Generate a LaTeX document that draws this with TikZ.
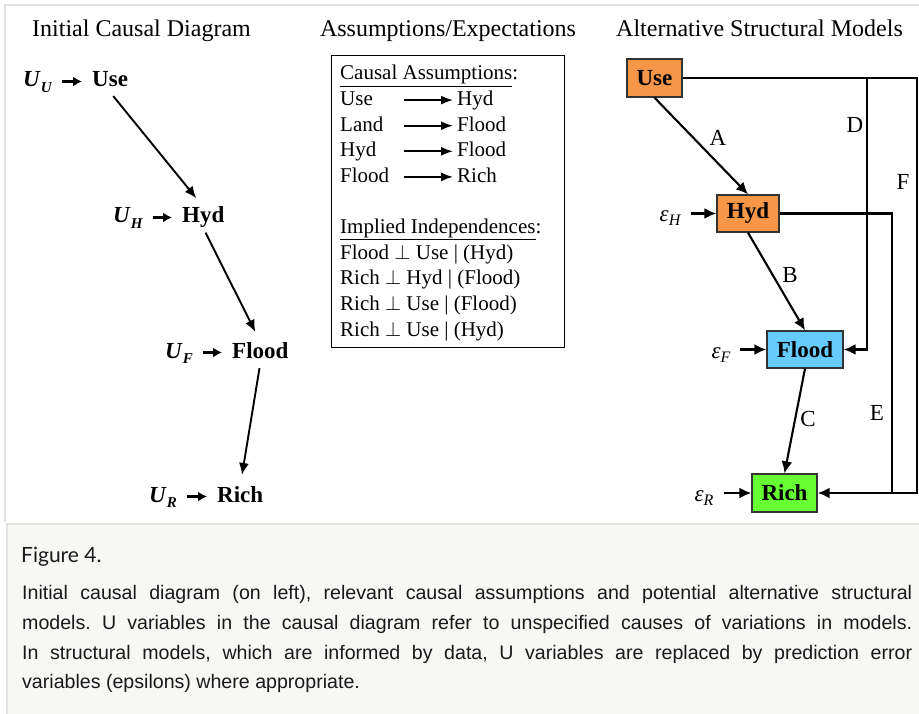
\documentclass[tikz,border=0pt]{standalone}
\usepackage{fontspec}
\setmainfont{Liberation Serif}
\newfontfamily\capsans{Liberation Sans}
\newfontfamily\figlato{Lato}
\usetikzlibrary{arrows.meta}
\frenchspacing
\definecolor{orangebox}{RGB}{247,150,70}
\definecolor{bluebox}{RGB}{102,204,255}
\definecolor{greenbox}{RGB}{102,255,51}
\definecolor{framegray}{RGB}{226,226,222}
\definecolor{capbg}{RGB}{247,247,245}
\definecolor{captext}{RGB}{25,25,25}
\newcommand{\uvar}[1]{\textbf{\textit{U}}\raisebox{-0.22em}{\fontsize{15}{16}\selectfont\bfseries\itshape #1}}
\newcommand{\epsv}[1]{\textit{ε}\raisebox{-0.2em}{\fontsize{16}{17}\selectfont\itshape #1}}
\begin{document}
\begin{tikzpicture}[x=1pt,y=-1pt,
  title/.style={font=\fontsize{24}{28}\selectfont, inner sep=0pt, anchor=base},
  lvar/.style={font=\fontsize{23}{26}\selectfont\bfseries, inner sep=0pt, anchor=base west, text height=16pt, text depth=5pt},
  luvar/.style={font=\fontsize{23}{26}\selectfont, inner sep=0pt, anchor=base west, text height=16pt, text depth=5pt},
  uarr/.style={-{Latex[length=9pt,width=10pt]}, line width=2.2pt, shorten <=10pt, shorten >=10pt},
  larr/.style={-{Latex[length=12pt,width=10pt]}, line width=1.9pt, shorten <=5pt, shorten >=11pt},
  btext/.style={font=\fontsize{21}{24}\selectfont, inner sep=0pt, anchor=base west, text height=15pt, text depth=4pt},
  barr/.style={-{Latex[length=12pt,width=9pt]}, line width=1.7pt, shorten >=4pt},
  sbox/.style={draw=black!80, line width=1.3pt, font=\fontsize{23}{26}\selectfont\bfseries, inner sep=0pt},
  carr/.style={-{Latex[length=12pt,width=11pt]}, line width=2.1pt},
  cline/.style={line width=2.1pt},
  elab/.style={font=\fontsize{23}{26}\selectfont, inner sep=0pt},
  capline/.style={font=\capsans\fontsize{19.6}{23}\selectfont, text=captext, inner sep=0pt, anchor=base west}
]
\useasboundingbox (0,0) rectangle (919,714);
\fill[white] (0,0) rectangle (919,714);
\draw[framegray, line width=1.5pt] (5,522) -- (5,5) -- (919,5);
\fill[capbg] (6,524) rectangle (919,714);
\draw[framegray, line width=2pt] (6.5,714) -- (6.5,524) -- (919,524);

% titles
\node[title] (t1) at (141.5,37) {Initial Causal Diagram};
\node[title] (t2) at (448,37) {Assumptions/Expectations};
\node[title] (t3) at (759.5,37) {Alternative Structural Models};

% left diagram
\node[luvar] (uu) at (23,87) {\uvar{U}};
\node[lvar] (use) at (92,87) {Use};
\node[luvar] (uh) at (113,223) {\uvar{H}};
\node[lvar] (hyd) at (182,223) {Hyd};
\node[luvar] (uf) at (165,358) {\uvar{F}};
\node[lvar] (flood) at (232,358) {Flood};
\node[luvar] (ur) at (149,502) {\uvar{R}};
\node[lvar] (rich) at (217,502) {Rich};
\draw[uarr] (uu.east) -- (use.west);
\draw[uarr] (uh.east) -- (hyd.west);
\draw[uarr] (uf.east) -- (flood.west);
\draw[uarr] (ur.east) -- (rich.west);
\draw[larr] (use.south) -- (hyd.north);
\draw[larr] (hyd.south) -- (flood.north);
\draw[larr] (flood.south) -- (rich.north);

% middle box
\node[draw, line width=1.4pt, minimum width=233pt, minimum height=292pt, anchor=north west, inner sep=0pt] (abox) at (331,55) {};
\node[btext] (h1) at (340,80) {\underline{Causal Assumptions}:};
\node[btext] (l1) at (340,105.6) {Use};
\node[btext] (r1) at (457,105.6) {Hyd};
\node[btext] (l2) at (340,131.2) {Land};
\node[btext] (r2) at (457,131.2) {Flood};
\node[btext] (l3) at (340,156.8) {Hyd};
\node[btext] (r3) at (457,156.8) {Flood};
\node[btext] (l4) at (340,182.4) {Flood};
\node[btext] (r4) at (457,182.4) {Rich};
\coordinate (a1) at (404,100);
\coordinate (a2) at (404,126);
\coordinate (a3) at (404,151);
\coordinate (a4) at (404,177);
\draw[barr] (a1 |- r1.west) -- (r1.west);
\draw[barr] (a2 |- r2.west) -- (r2.west);
\draw[barr] (a3 |- r3.west) -- (r3.west);
\draw[barr] (a4 |- r4.west) -- (r4.west);
\node[btext] (h2) at (340,233.6) {\underline{Implied Independences}:};
\node[btext] (i1) at (340,259.2) {Flood $\perp$ Use | (Hyd)};
\node[btext] (i2) at (340,284.8) {Rich $\perp$ Hyd | (Flood)};
\node[btext] (i3) at (340,310.4) {Rich $\perp$ Use | (Flood)};
\node[btext] (i4) at (340,336) {Rich $\perp$ Use | (Hyd)};

% right diagram
\node[sbox, fill=orangebox, minimum width=55pt, minimum height=38pt] (suse) at (654.5,78) {Use};
\node[sbox, fill=orangebox, minimum width=62pt, minimum height=37pt] (shyd) at (748,213.5) {Hyd};
\node[sbox, fill=bluebox, minimum width=76pt, minimum height=37pt] (sflood) at (805,349.5) {Flood};
\node[sbox, fill=greenbox, minimum width=65pt, minimum height=38pt] (srich) at (784.5,493) {Rich};
\coordinate (fc) at (917,493);
\coordinate (dtop) at (867,78);
\coordinate (ec) at (892,493);
\draw[carr] (suse.south) -- (shyd.north);
\draw[carr] (shyd.south) -- (sflood.north);
\draw[carr] (sflood.south) -- (srich.north);
\draw[carr] (suse.east) -| (fc) -- (srich.east);
\draw[carr] (dtop) |- (sflood.east);
\draw[cline] (shyd.east) -| (ec);
\node[elab] (la) at (718,138) {A};
\node[elab] (lb) at (790,275) {B};
\node[elab] (lc) at (808,419) {C};
\node[elab] (ld) at (855,125) {D};
\node[elab] (le) at (877,413) {E};
\node[elab] (lf) at (903,182) {F};
\node[elab] (eh) at (670,218) {\epsv{H}};
\node[elab] (ef) at (721,355) {\epsv{F}};
\node[elab] (er) at (704,498) {\epsv{R}};
\draw[carr, shorten <=10pt] (eh.east |- shyd.west) -- (shyd.west);
\draw[carr, shorten <=9pt] (ef.east |- sflood.west) -- (sflood.west);
\draw[carr, shorten <=10pt] (er.east |- srich.west) -- (srich.west);

% caption
\node[anchor=base west, font=\figlato\fontsize{21}{25}\selectfont, text=captext, inner sep=0pt] (figlab) at (21,562) {Figure 4.};
\node[capline] (c1) at (22,599) {\makebox[890pt][s]{Initial causal diagram (on left), relevant causal assumptions and potential alternative structural}};
\node[capline] (c2) at (22,629) {\makebox[890pt][s]{models. U variables in the causal diagram refer to unspecified causes of variations in models.}};
\node[capline] (c3) at (22,659) {\makebox[890pt][s]{In structural models, which are informed by data, U variables are replaced by prediction error}};
\node[capline] (c4) at (22,688) {variables (epsilons) where appropriate.};
\end{tikzpicture}
\end{document}
